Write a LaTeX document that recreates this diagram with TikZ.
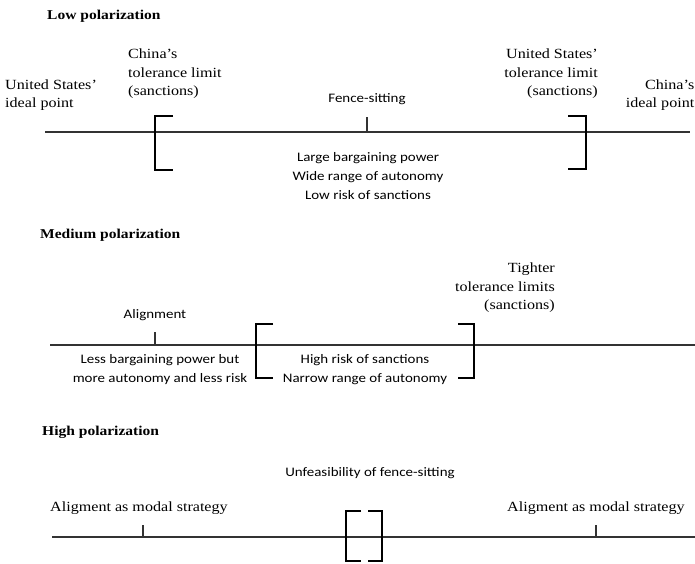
\documentclass[tikz,border=0pt]{standalone}
\usepackage{fontspec}
\setmainfont{Liberation Serif}[FakeStretch=1.15]
\newfontfamily\calfont{Carlito}[FakeStretch=1.15]
\usetikzlibrary{positioning}

\begin{document}
\begin{tikzpicture}[x=1pt,y=-1pt]
			\tikzstyle{heading} = [font=\bfseries\fontsize{13.5}{16}\selectfont, anchor=west, inner sep=0pt]
			\tikzstyle{serif} = [font=\fontsize{14}{18.5}\selectfont, inner sep=0pt]
			\tikzstyle{sans} = [font=\calfont\fontsize{13}{19}\selectfont, inner sep=0pt, align=center]
			\tikzstyle{axis} = [line width=1.4pt, black!80]
			\tikzstyle{tick} = [line width=1.2pt, black!80]
			\tikzstyle{bracket} = [line width=1.5pt, black]
			\useasboundingbox (0,0) rectangle (695,563);
			
			% low polarization
			\node[heading](low) at (47,16){Low polarization};
			\coordinate(a1) at (45,132);
			\coordinate(b1) at (690,132);
			\draw[axis](a1) -- (b1);
			\node[serif, anchor=west, align=left](usideal) at (5,95){United States'\\ideal point};
			\node[serif, anchor=west, align=left](chlim) at (128,74){China's\\tolerance limit\\(sanctions)};
			\node[serif, anchor=east, align=right](uslim) at (598,74){United States'\\tolerance limit\\(sanctions)};
			\node[serif, anchor=east, align=right](chideal) at (694.5,95){China's\\ideal point};
			\draw[bracket] (173,116) -- (155,116) -- (155,170) -- (173,170);
			\draw[bracket] (568,116) -- (586,116) -- (586,169) -- (568,169);
			\coordinate(t1) at (367,132);
			\coordinate(u1) at (367,117);
			\draw[tick](t1) -- (u1);
			\node[sans, above=12pt of u1](fence){Fence-sitting};
			\node[sans](large) at (368,176){Large bargaining power\\Wide range of autonomy\\Low risk of sanctions};
			
			% medium polarization
			\node[heading](medium) at (40,235){Medium polarization};
			\coordinate(a2) at (50,345);
			\coordinate(b2) at (695,345);
			\draw[axis](a2) -- (b2);
			\coordinate(t2) at (155,345);
			\coordinate(u2) at (155,332);
			\draw[tick](t2) -- (u2);
			\node[sans, above=11pt of u2](align){Alignment};
			\draw[bracket] (273,324) -- (256,324) -- (256,378) -- (273,378);
			\draw[bracket] (458,324) -- (474,324) -- (474,378) -- (458,378);
			\node[serif, anchor=east, align=right](tight) at (555,288){Tighter\\tolerance limits\\(sanctions)};
			\node[sans](less) at (160,370){Less bargaining power but\\more autonomy and less risk};
			\node[sans](risk) at (365,370){High risk of sanctions\\Narrow range of autonomy};
			
			% high polarization
			\node[heading](high) at (42,432){High polarization};
			\node[sans](unfeas) at (370,473){Unfeasibility of fence-sitting};
			\coordinate(a3) at (52,537);
			\coordinate(b3) at (695,537);
			\draw[axis](a3) -- (b3);
			\coordinate(t3) at (143,537);
			\coordinate(u3) at (143,525);
			\coordinate(t4) at (596,537);
			\coordinate(u4) at (596,525);
			\draw[tick](t3) -- (u3);
			\draw[tick](t4) -- (u4);
			\node[serif, anchor=west](modl) at (50,508){Aligment as modal strategy};
			\node[serif, anchor=west](modr) at (507,508){Aligment as modal strategy};
			\draw[bracket] (361,511) -- (346,511) -- (346,561) -- (361,561);
			\draw[bracket] (368,511) -- (382,511) -- (382,561) -- (368,561);
\end{tikzpicture}
\end{document}
